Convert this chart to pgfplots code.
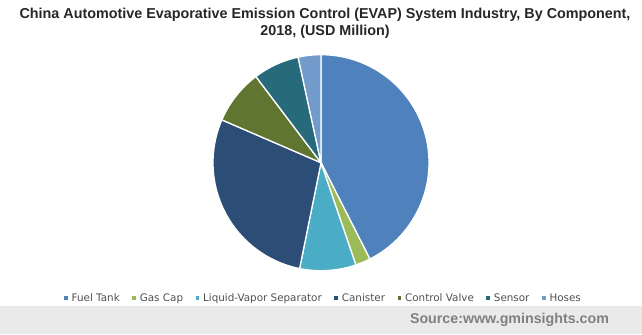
\documentclass[border=0pt]{standalone}
\usepackage{pgfplots}
\pgfplotsset{compat=1.18}
\usepackage{fontspec}
\setmainfont{Liberation Sans}
\newfontfamily\legfont{DejaVu Sans}
\definecolor{cFT}{HTML}{4F81BD}
\definecolor{cGC}{HTML}{9BBB59}
\definecolor{cLV}{HTML}{4BACC6}
\definecolor{cCA}{HTML}{2C4D75}
\definecolor{cCV}{HTML}{5F7530}
\definecolor{cSE}{HTML}{276A7C}
\definecolor{cHO}{HTML}{729ACA}
\definecolor{band}{HTML}{EAEAEA}
\definecolor{srcgray}{HTML}{808080}
\definecolor{legtext}{HTML}{505050}
\begin{document}
\begin{tikzpicture}
% shares (USD Million shares)
\def\vFT{42.5}\def\vGC{2.25}\def\vLV{8.4}\def\vCA{28.3}\def\vCV{8.2}\def\vSE{6.9}\def\vHO{3.4}
\pgfmathsetmacro{\tot}{\vFT+\vGC+\vLV+\vCA+\vCV+\vSE+\vHO}
\pgfmathsetmacro{\aA}{0}
\pgfmathsetmacro{\aB}{\aA+360*\vFT/\tot}
\pgfmathsetmacro{\aC}{\aB+360*\vGC/\tot}
\pgfmathsetmacro{\aD}{\aC+360*\vLV/\tot}
\pgfmathsetmacro{\aE}{\aD+360*\vCA/\tot}
\pgfmathsetmacro{\aF}{\aE+360*\vCV/\tot}
\pgfmathsetmacro{\aG}{\aF+360*\vSE/\tot}
\pgfmathsetmacro{\aH}{\aG+360*\vHO/\tot}
\def\cx{321}\def\cy{171.3}\def\rr{108}
\begin{axis}[
  x=1bp, y=1bp, xmin=0, xmax=642, ymin=0, ymax=334,
  scale only axis, hide axis, clip=false,
  legend columns=-1,
  legend style={at={(axis cs:323.5,36)}, anchor=center, draw=none, fill=none,
    font=\fontsize{10.4}{12}\legfont, text=legtext,
    /tikz/every even column/.append style={column sep=10.5bp},
    /tikz/every odd column/.append style={column sep=2bp},
    inner sep=0pt},
  legend image code/.code={\fill[#1, draw=none] (0bp,-1.8bp) rectangle (3.6bp,1.8bp);},
]
\path (axis cs:0,0) rectangle (axis cs:642,334);
\fill[band] (axis cs:0,0) rectangle (axis cs:642,28);
\addplot[draw=white, line width=1.3bp, fill=cFT, domain=\aA:\aB, samples=120, variable=\t] ({\cx+\rr*sin(t)},{\cy+\rr*cos(t)}) -- (axis cs:\cx,\cy) -- cycle;
\addlegendentry{Fuel Tank}
\addplot[draw=white, line width=1.3bp, fill=cGC, domain=\aB:\aC, samples=20, variable=\t] ({\cx+\rr*sin(t)},{\cy+\rr*cos(t)}) -- (axis cs:\cx,\cy) -- cycle;
\addlegendentry{Gas Cap}
\addplot[draw=white, line width=1.3bp, fill=cLV, domain=\aC:\aD, samples=30, variable=\t] ({\cx+\rr*sin(t)},{\cy+\rr*cos(t)}) -- (axis cs:\cx,\cy) -- cycle;
\addlegendentry{Liquid-Vapor Separator}
\addplot[draw=white, line width=1.3bp, fill=cCA, domain=\aD:\aE, samples=80, variable=\t] ({\cx+\rr*sin(t)},{\cy+\rr*cos(t)}) -- (axis cs:\cx,\cy) -- cycle;
\addlegendentry{Canister}
\addplot[draw=white, line width=1.3bp, fill=cCV, domain=\aE:\aF, samples=30, variable=\t] ({\cx+\rr*sin(t)},{\cy+\rr*cos(t)}) -- (axis cs:\cx,\cy) -- cycle;
\addlegendentry{Control Valve}
\addplot[draw=white, line width=1.3bp, fill=cSE, domain=\aF:\aG, samples=30, variable=\t] ({\cx+\rr*sin(t)},{\cy+\rr*cos(t)}) -- (axis cs:\cx,\cy) -- cycle;
\addlegendentry{Sensor}
\addplot[draw=white, line width=1.3bp, fill=cHO, domain=\aG:\aH, samples=20, variable=\t] ({\cx+\rr*sin(t)},{\cy+\rr*cos(t)}) -- (axis cs:\cx,\cy) -- cycle;
\addlegendentry{Hoses}
\node[font=\bfseries\fontsize{14.4}{16}\selectfont, text=black!85, align=center, anchor=center] at (axis cs:325,319) {China Automotive Evaporative Emission Control (EVAP) System Industry, By Component,};
\node[font=\bfseries\fontsize{14.4}{16}\selectfont, text=black!85, align=center, anchor=center] at (axis cs:325,302) {2018, (USD Million)};
\node[font=\bfseries\fontsize{14.3}{16}\selectfont, text=srcgray, anchor=center] at (axis cs:509.5,14) {Source:www.gminsights.com};
\end{axis}
\end{tikzpicture}
\end{document}
